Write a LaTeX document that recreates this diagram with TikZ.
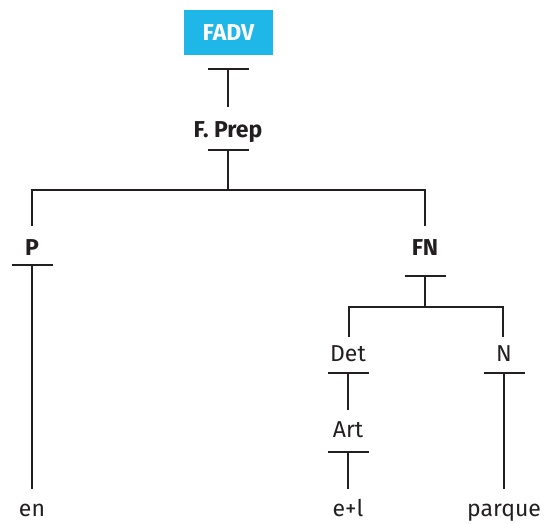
\documentclass[tikz,border=0pt]{standalone}
\usepackage{fontspec}
\setmainfont{Fira Sans}
\usetikzlibrary{calc}
\definecolor{ink}{HTML}{231F20}
\definecolor{rootblue}{HTML}{1FB6E8}
\begin{document}
\begin{tikzpicture}[x=1pt,y=-1pt,
  line width=1.9pt, draw=ink,
  cat/.style={text=ink, font=\fontsize{23}{26}\selectfont\bfseries, anchor=base, inner sep=0pt},
  word/.style={text=ink, font=\fontsize{23}{26}\selectfont, anchor=base, inner sep=0pt},
  rootbox/.style={fill=rootblue, text=white, font=\fontsize{23}{26}\selectfont\bfseries,
    minimum width=89pt, minimum height=45pt, inner sep=0pt},
  tbar/.style={line width=1.9pt}]
\useasboundingbox (0,0) rectangle (545,523);

% labels
\node[rootbox] (fadv) at (228.5,32.5) {FADV};
\node[cat] (fprep) at (228,137) {F. Prep};
\node[cat] (p) at (32,255) {P};
\node[cat] (fn) at (425,255) {FN};
\node[word] (det) at (348,361) {Det};
\node[word] (n) at (504,361) {N};
\node[word] (art) at (348,437) {Art};
\node[word] (en) at (32,516) {en};
\node[word] (el) at (348,516) {e+l};
\node[word] (parque) at (504,516) {parque};

% attachment points of the branches
\coordinate (fadvT) at (228,69);   \coordinate (fadvB) at (228,107);
\coordinate (fprepT) at (228,150); \coordinate (fprepB) at (228,190);
\coordinate (pTop) at (32,190);    \coordinate (pEnd) at (32,226);
\coordinate (fnTop) at (425,190);  \coordinate (fnEnd) at (425,226);
\coordinate (pT) at (32,265);      \coordinate (pB) at (32,489);
\coordinate (fnT) at (425,276);    \coordinate (fnB) at (425,307);
\coordinate (detTop) at (349,307); \coordinate (detEnd) at (349,337);
\coordinate (nTop) at (503,307);   \coordinate (nEnd) at (503,337);
\coordinate (detT) at (348,373);   \coordinate (detB) at (348,410);
\coordinate (nT) at (504,373);     \coordinate (nB) at (504,489);
\coordinate (artT) at (348,452);   \coordinate (artB) at (348,489);

% unary branches drawn as T-bars
\foreach \t/\b in {fadvT/fadvB, fprepT/fprepB, pT/pB, fnT/fnB, detT/detB, nT/nB, artT/artB}{
  \draw[tbar] ($(\t)+(-20.5,0)$) -- ($(\t)+(20.5,0)$);
  \draw[tbar] (\t) -- (\b);
}

% binary branches
\draw (pEnd) -- (pTop) -- (fnTop) -- (fnEnd);
\draw (detEnd) -- (detTop) -- (nTop) -- (nEnd);
\end{tikzpicture}
\end{document}
